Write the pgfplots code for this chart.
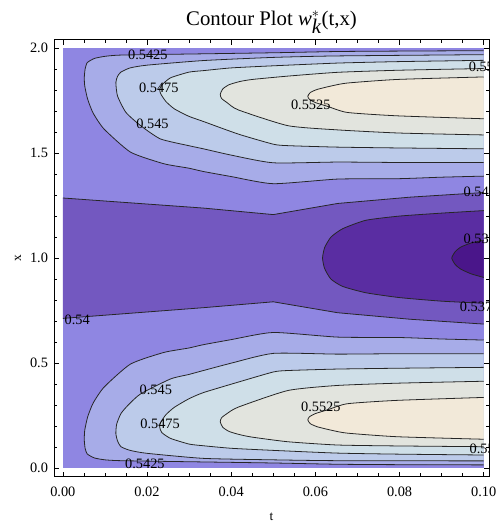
\documentclass[border=0pt]{standalone}
\usepackage{pgfplots}
\usepackage{pgfplotstable}
\pgfplotsset{compat=1.18}
\usepackage{fontspec}
\setmainfont{Liberation Serif}

\definecolor{c1}{HTML}{4A168A}
\definecolor{c2}{HTML}{5A2DA2}
\definecolor{c3}{HTML}{7358C0}
\definecolor{c4}{HTML}{8F86E2}
\definecolor{c5}{HTML}{A7ACE8}
\definecolor{c6}{HTML}{BCCBEA}
\definecolor{c7}{HTML}{CFDFE8}
\definecolor{c8}{HTML}{E2E4DE}
\definecolor{c9}{HTML}{F2E9D9}

% background (whole data region)
\pgfplotstableread{
t x
0 0
0.1 0
0.1 2
0 2
}\bg

% central band 0.5375-0.54 (closed polygon)
\pgfplotstableread{
t x
0 1.286
0.0334 1.238
0.05 1.207
0.0653 1.260
0.0825 1.290
0.1 1.312
0.1 0.686
0.0825 0.709
0.0653 0.740
0.05 0.792
0.0334 0.764
0 0.713
}\band

\pgfplotstableread{
t x
0 1.286
0.0334 1.238
0.05 1.207
0.0653 1.260
0.0825 1.290
0.1 1.312
}\fortyTop

\pgfplotstableread{
t x
0 0.713
0.0334 0.764
0.05 0.792
0.0653 0.740
0.0825 0.709
0.1 0.686
}\fortyBot

% 0.5375
\pgfplotstableread{
t x
0.1 1.226
0.09 1.214
0.08 1.200
0.072 1.180
0.0665 1.140
0.0637 1.100
0.0622 1.050
0.0617 1.000
0.0622 0.950
0.0637 0.900
0.0665 0.865
0.072 0.835
0.08 0.812
0.09 0.795
0.1 0.785
}\lvA

% 0.535
\pgfplotstableread{
t x
0.1 1.085
0.097 1.072
0.0945 1.052
0.0932 1.030
0.0924 1.000
0.0932 0.970
0.0945 0.948
0.097 0.925
0.1 0.908
}\lvB

% ---- bottom half U contours ----
\pgfplotstableread{
t x
0.1 0.610
0.09 0.615
0.08 0.622
0.0653 0.624
0.05 0.646
0.04 0.612
0.0334 0.588
0.0299 0.572
0.024 0.551
0.0161 0.496
0.0098 0.386
0.0072 0.310
0.0059 0.244
0.0052 0.180
0.0051 0.134
0.0053 0.095
0.0058 0.068
0.0075 0.049
0.0100 0.040
0.0138 0.036
0.0299 0.031
0.05 0.025
0.0653 0.019
0.08 0.017
0.1 0.016
}\bA

\pgfplotstableread{
t x
0.1 0.545
0.08 0.545
0.0653 0.543
0.05 0.5465
0.04 0.500
0.0334 0.465
0.0299 0.446
0.0256 0.425
0.0185 0.354
0.0155 0.300
0.0138 0.260
0.0128 0.210
0.0126 0.165
0.0130 0.130
0.0138 0.1025
0.0160 0.085
0.02 0.071
0.0334 0.047
0.05 0.040
0.0653 0.036
0.1 0.035
}\bB

\pgfplotstableread{
t x
0.1 0.480
0.08 0.476
0.0653 0.472
0.0535 0.465
0.05 0.458
0.0417 0.410
0.0334 0.360
0.0299 0.330
0.0265 0.290
0.0245 0.255
0.0233 0.220
0.0230 0.197
0.0235 0.170
0.0256 0.142
0.03 0.115
0.0334 0.107
0.04 0.095
0.05 0.085
0.0653 0.072
0.08 0.067
0.1 0.063
}\bC

\pgfplotstableread{
t x
0.1 0.414
0.08 0.405
0.0653 0.394
0.0535 0.370
0.0417 0.291
0.039 0.260
0.0377 0.240
0.0374 0.2205
0.0380 0.195
0.0395 0.175
0.0420 0.160
0.045 0.148
0.0535 0.126
0.0653 0.1105
0.08 0.106
0.1 0.1025
}\bD

\pgfplotstableread{
t x
0.1 0.337
0.0794 0.323
0.0676 0.307
0.0629 0.278
0.0600 0.260
0.0586 0.245
0.0582 0.230
0.0588 0.212
0.0605 0.197
0.0640 0.180
0.0676 0.167
0.0794 0.150
0.1 0.138
}\bE

% ---- top half U contours ----
\pgfplotstableread{
t x
0.1 1.390
0.09 1.385
0.08 1.378
0.0653 1.376
0.05 1.354
0.04 1.388
0.0334 1.412
0.0299 1.428
0.024 1.449
0.0161 1.504
0.0098 1.614
0.0072 1.690
0.0059 1.756
0.0052 1.820
0.0051 1.860
0.0053 1.900
0.0058 1.930
0.0075 1.950
0.0100 1.960
0.0138 1.966
0.0299 1.971
0.05 1.977
0.0653 1.983
0.08 1.985
0.1 1.987
}\tA

\pgfplotstableread{
t x
0.1 1.455
0.08 1.455
0.0653 1.457
0.05 1.4535
0.04 1.490
0.0334 1.520
0.0299 1.535
0.0232 1.567
0.0185 1.630
0.0150 1.693
0.0130 1.771
0.0126 1.835
0.0130 1.865
0.0138 1.885
0.0160 1.905
0.02 1.918
0.0334 1.940
0.05 1.955
0.0653 1.962
0.1 1.968
}\tB

\pgfplotstableread{
t x
0.1 1.520
0.08 1.524
0.0653 1.528
0.0535 1.535
0.05 1.542
0.0417 1.590
0.0334 1.650
0.0299 1.675
0.0265 1.710
0.0245 1.745
0.0233 1.780
0.0230 1.803
0.0236 1.825
0.0256 1.858
0.03 1.885
0.0334 1.892
0.04 1.905
0.05 1.915
0.0653 1.928
0.08 1.935
0.1 1.941
}\tC

\pgfplotstableread{
t x
0.1 1.586
0.08 1.595
0.0653 1.610
0.0535 1.630
0.0417 1.705
0.039 1.740
0.0377 1.760
0.0374 1.7795
0.0380 1.805
0.0395 1.825
0.0420 1.840
0.045 1.850
0.0535 1.866
0.0653 1.884
0.08 1.894
0.1 1.902
}\tD

\pgfplotstableread{
t x
0.1 1.663
0.0794 1.677
0.0676 1.693
0.0629 1.722
0.0600 1.740
0.0586 1.755
0.0582 1.770
0.0588 1.788
0.0605 1.803
0.0640 1.820
0.0676 1.833
0.0794 1.850
0.1 1.862
}\tE

\begin{document}
\begin{tikzpicture}
\begin{axis}[
  scale only axis,
  width=438.4bp, height=440bp,
  xmin=-0.00212, xmax=0.10127,
  ymin=-0.0392, ymax=2.0392,
  xtick={0,0.02,0.04,0.06,0.08,0.1},
  minor xtick={0.005,0.01,0.015,0.025,0.03,0.035,0.045,0.05,0.055,0.065,0.07,0.075,0.085,0.09,0.095},
  ytick={0,0.5,1,1.5,2},
  minor y tick num=4,
  scaled x ticks=false,
  scaled y ticks=false,
  xticklabel style={/pgf/number format/fixed, /pgf/number format/fixed zerofill, /pgf/number format/precision=2, yshift=-7bp},
  yticklabel style={/pgf/number format/fixed, /pgf/number format/fixed zerofill, /pgf/number format/precision=1, xshift=-2.5bp},
  /pgf/number format/assume math mode=true,
  ticklabel style={font=\fontsize{14.5}{16}\selectfont, text=black},
  tick align=inside,
  major tick length=5bp,
  minor tick length=3.2bp,
  every tick/.style={black, line width=0.6bp},
  axis line style={black, line width=0.8bp},
  title={Contour Plot {\itshape w}$_{\textit{k}}^{*}$(t,x)},
  title style={at={(axis description cs:0.5,1)}, anchor=base, yshift=8.5bp, font=\fontsize{21}{24}\selectfont},
  xlabel={t}, ylabel={x},
  label style={font=\fontsize{13.5}{15}\selectfont},
  xlabel style={at={(axis description cs:0.5,-0.0925)}, anchor=center},
  ylabel style={at={(axis description cs:-0.0821,0.5)}, anchor=center},
  contour/.style={line width=0.8bp, color=black!85},
  sm/.style={smooth, tension=0.35},
]
% fills
\addplot[draw=none, fill=c4] table {\bg};
\addplot[draw=none, fill=c3] table {\band};
\addplot[draw=none, fill=c2, sm] table {\lvA};
\addplot[draw=none, fill=c1, sm] table {\lvB};
\addplot[draw=none, fill=c5, sm] table {\bA};
\addplot[draw=none, fill=c6, sm] table {\bB};
\addplot[draw=none, fill=c7, sm] table {\bC};
\addplot[draw=none, fill=c8, sm] table {\bD};
\addplot[draw=none, fill=c9, sm] table {\bE};
\addplot[draw=none, fill=c5, sm] table {\tA};
\addplot[draw=none, fill=c6, sm] table {\tB};
\addplot[draw=none, fill=c7, sm] table {\tC};
\addplot[draw=none, fill=c8, sm] table {\tD};
\addplot[draw=none, fill=c9, sm] table {\tE};
% contour lines
\addplot[contour] table {\fortyTop};
\addplot[contour] table {\fortyBot};
\addplot[contour, sm] table {\lvA};
\addplot[contour, sm] table {\lvB};
\addplot[contour, sm] table {\bA};
\addplot[contour, sm] table {\bB};
\addplot[contour, sm] table {\bC};
\addplot[contour, sm] table {\bD};
\addplot[contour, sm] table {\bE};
\addplot[contour, sm] table {\tA};
\addplot[contour, sm] table {\tB};
\addplot[contour, sm] table {\tC};
\addplot[contour, sm] table {\tD};
\addplot[contour, sm] table {\tE};
% contour labels
\begin{scope}[every node/.style={font=\fontsize{14.5}{16}\selectfont, inner sep=0pt}]
\node at (0.0202,1.968) {0.5425};
\node at (0.0228,1.812) {0.5475};
\node at (0.0213,1.638) {0.545};
\node at (0.0589,1.727) {0.5525};
\node[anchor=west] at (0.0964,1.909) {0.55};
\node[anchor=west] at (0.0952,1.316) {0.54};
\node[anchor=west] at (0.0952,1.090) {0.535};
\node[anchor=west] at (0.0943,0.769) {0.5375};
\node[anchor=west] at (0.0004,0.707) {0.54};
\node at (0.0221,0.372) {0.545};
\node at (0.0231,0.209) {0.5475};
\node at (0.0195,0.022) {0.5425};
\node at (0.0613,0.291) {0.5525};
\node[anchor=west] at (0.0966,0.093) {0.55};
\end{scope}
\end{axis}
\path (current axis.south west) ++(-54.3bp,-44bp);
\path (current axis.north east) ++(10.3bp,40bp);
\end{tikzpicture}
\end{document}
